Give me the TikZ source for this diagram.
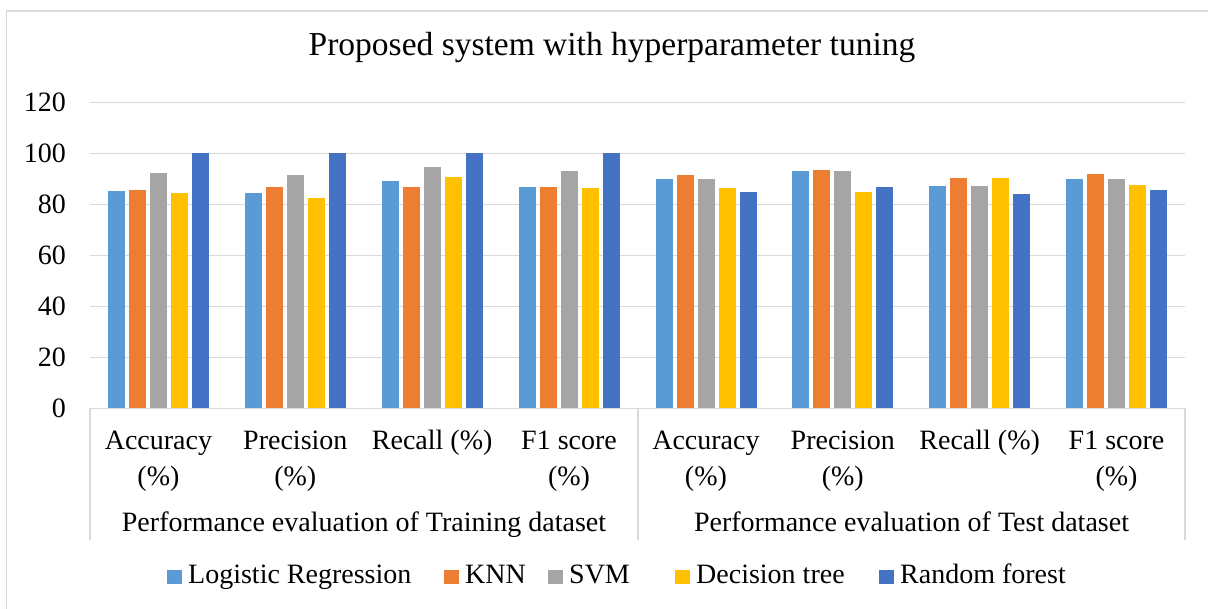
\documentclass[tikz,border=0pt]{standalone}
\usepackage{fontspec}
\setmainfont{Liberation Serif}
\definecolor{gridgray}{HTML}{D9D9D9}
\definecolor{lrblue}{HTML}{5B9BD5}
\definecolor{knnorange}{HTML}{ED7D31}
\definecolor{svmgray}{HTML}{A5A5A5}
\definecolor{dtgold}{HTML}{FFC000}
\definecolor{rfblue}{HTML}{4472C4}
\tikzset{
  lab/.style={inner sep=0pt, font=\fontsize{28}{34}\selectfont},
  gridline/.style={gridgray, line width=1.5pt},
}
\begin{document}
\begin{tikzpicture}[x=1pt,y=1pt]
    \useasboundingbox (0,0) rectangle (1208,609);
    \clip (0,0) rectangle (1208,609);
    \fill[white] (0,0) rectangle (1208,609);
    \draw[gridline] (6.5,-10) rectangle (1220,598);

    \node[lab, font=\fontsize{33.5}{40}\selectfont, anchor=base] (title) at (612,553) {Proposed system with hyperparameter tuning};

    \begin{scope}[shift={(90,200.5)}, y=2.55pt]
        \foreach \v in {20,40,...,120} \draw[gridline] (0,\v) -- (1095,\v);
        \foreach \v in {0,20,...,120} \node[lab, anchor=east] (tick\v) at (-24,\v) {\v};
        \foreach \a/\b/\c/\d/\e [count=\i from 0] in {85.2/85.7/92.4/84.5/100,84.7/86.9/91.7/82.5/100,89.3/86.9/94.7/90.9/100,86.9/86.9/93.2/86.4/100,90.0/91.7/90.0/86.5/84.9,93.2/93.5/93.2/84.9/86.9,87.3/90.5/87.3/90.5/84.1,90.1/92.0/90.1/87.7/85.6} {
            \foreach \h/\col [count=\j from 0] in {\a/lrblue,\b/knnorange,\c/svmgray,\d/dtgold,\e/rfblue}
                \fill[\col] ({136.875*\i+18+21*\j},0) rectangle ++(17,\h);
        }
    \end{scope}

    \draw[gridline] (90,200.5) -- (1185,200.5);
    \foreach \x in {90,638,1185} \draw[gridline] (\x,200.5) -- (\x,69);

    \foreach \top/\bot [count=\i from 0] in {Accuracy/(\%),Precision/(\%),Recall (\%)/,F1 score/(\%),Accuracy/(\%),Precision/(\%),Recall (\%)/,F1 score/(\%)} {
        \node[lab, anchor=base] (cat\i) at ({90+136.875*(\i+0.5)},159) {\top};
        \node[lab, anchor=base] (pct\i) at ({90+136.875*(\i+0.5)},123) {\bot};
    }
    \node[lab, anchor=base] (traingroup) at (364,77) {Performance evaluation of Training dataset};
    \node[lab, anchor=base] (testgroup) at (911.5,77) {Performance evaluation of Test dataset};

    \foreach \x/\col/\txt [count=\k] in {167/lrblue/Logistic Regression,444/knnorange/KNN,548/svmgray/SVM,675/dtgold/Decision tree,879/rfblue/Random forest} {
        \fill[\col] (\x,25) rectangle ++(15,14);
        \node[lab, anchor=base west] (leg\k) at (\x+21,25) {\txt};
    }
\end{tikzpicture}
\end{document}
